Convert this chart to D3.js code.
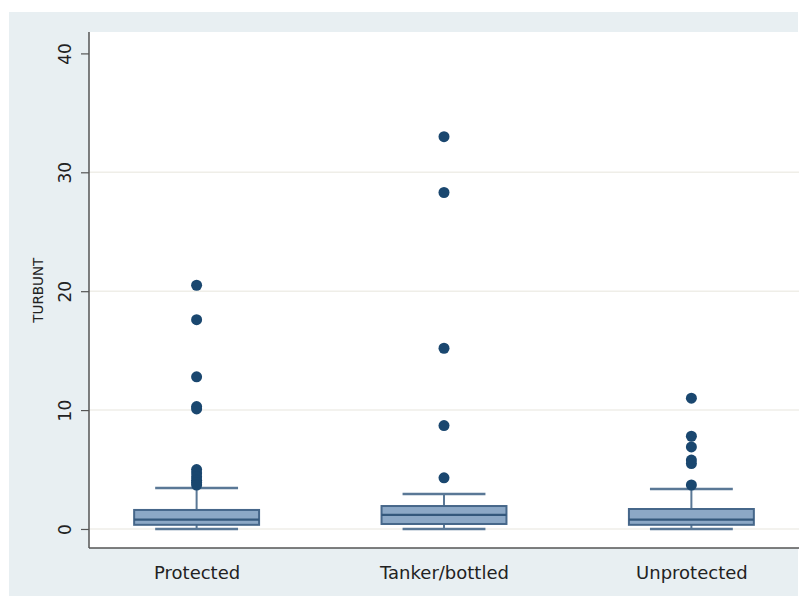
<!DOCTYPE html>
<html><head><meta charset="utf-8">
<script src="https://cdn.jsdelivr.net/npm/d3@7"></script>
<style>html,body{margin:0;padding:0;background:#fff;}svg{display:block;}</style>
</head><body>
<svg id="c" width="807" height="596"></svg>
<script>
const categories = ["Protected", "Tanker/bottled", "Unprotected"];
const lowerWhisker = [0, 0, 0];
const q1 = [0.35, 0.42, 0.35];
const medians = [0.78, 1.18, 0.78];
const q3 = [1.6, 1.93, 1.68];
const upperWhisker = [3.45, 2.94, 3.36];
const outliers = [
  [20.5, 17.6, 12.8, 10.3, 10.1, 5.0, 4.7, 4.4, 4.1, 3.9, 3.7],
  [33.0, 28.3, 15.2, 8.7, 4.3],
  [11.0, 7.8, 6.9, 5.8, 5.5, 3.7]
];
const yTicks = [0, 10, 20, 30, 40];
const yTitle = "TURBUNT";

const svg = d3.select("#c");
const plot = {l: 89, r: 799, t: 32, b: 548};

svg.append("rect").attr("x", 9).attr("y", 12).attr("width", 789).attr("height", 584).attr("fill", "#e8eff2");
svg.append("rect").attr("x", plot.l).attr("y", plot.t).attr("width", plot.r - plot.l).attr("height", plot.b - plot.t).attr("fill", "#ffffff");

const x = d3.scalePoint().domain(categories).range([plot.l, plot.r]).padding(0.435);
const y = d3.scaleLinear().domain([-1.6, 41.8]).range([plot.b, plot.t]);
const step = x.step();
const boxW = step * 0.505, capW = step * 0.335;

// gridlines
svg.append("g").selectAll("line").data(yTicks.slice(0, 4)).join("line")
  .attr("x1", plot.l).attr("x2", plot.r)
  .attr("y1", d => y(d)).attr("y2", d => y(d))
  .attr("stroke", "#efeee8").attr("stroke-width", 1.5);

// y axis
const yAxis = svg.append("g").attr("transform", `translate(${plot.l},0)`)
  .call(d3.axisLeft(y).tickValues(yTicks).tickSize(8).tickPadding(0).tickFormat(d3.format("d")));
yAxis.select(".domain").attr("d", `M0,${plot.t}V${plot.b}`).attr("stroke", "#555").attr("stroke-width", 1.5);
yAxis.selectAll(".tick line").attr("stroke", "#555").attr("stroke-width", 1.2);
yAxis.selectAll(".tick text")
  .attr("x", 0).attr("y", 0).attr("dy", null)
  .attr("transform", "translate(-18,0) rotate(-90)")
  .attr("text-anchor", "middle")
  .attr("font-family", "DejaVu Sans, Verdana, sans-serif").attr("font-size", 17).attr("fill", "#222");

// x axis
const xAxis = svg.append("g").attr("transform", `translate(0,${plot.b})`)
  .call(d3.axisBottom(x).tickSize(0).tickPadding(18));
xAxis.select(".domain").attr("d", `M${plot.l},0H${plot.r}`).attr("stroke", "#555").attr("stroke-width", 1.5);
xAxis.selectAll(".tick text")
  .attr("font-family", "DejaVu Sans, Verdana, sans-serif").attr("font-size", 18).attr("fill", "#222");

// y title
svg.append("text").attr("transform", `translate(43,${(y(40)+y(0))/2 - 1}) rotate(-90)`)
  .attr("text-anchor", "middle").attr("font-family", "DejaVu Sans, Verdana, sans-serif")
  .attr("font-size", 13.5).attr("fill", "#222").text(yTitle);

// boxes
const g = svg.append("g");
categories.forEach((c, i) => {
  const cx = x(c);
  const wc = "#5a7896";
  g.append("line").attr("x1", cx).attr("x2", cx).attr("y1", y(q3[i])).attr("y2", y(upperWhisker[i])).attr("stroke", wc).attr("stroke-width", 2);
  g.append("line").attr("x1", cx).attr("x2", cx).attr("y1", y(q1[i])).attr("y2", y(lowerWhisker[i])).attr("stroke", wc).attr("stroke-width", 2);
  g.append("line").attr("x1", cx - capW/2).attr("x2", cx + capW/2).attr("y1", y(upperWhisker[i])).attr("y2", y(upperWhisker[i])).attr("stroke", wc).attr("stroke-width", 2.5);
  g.append("line").attr("x1", cx - capW/2).attr("x2", cx + capW/2).attr("y1", y(lowerWhisker[i])).attr("y2", y(lowerWhisker[i])).attr("stroke", wc).attr("stroke-width", 2.5);
  g.append("rect").attr("x", cx - boxW/2).attr("width", boxW)
    .attr("y", y(q3[i])).attr("height", y(q1[i]) - y(q3[i]))
    .attr("fill", "#8ca8c6").attr("stroke", "#46678a").attr("stroke-width", 2);
  g.append("line").attr("x1", cx - boxW/2).attr("x2", cx + boxW/2).attr("y1", y(medians[i])).attr("y2", y(medians[i]))
    .attr("stroke", "#34587c").attr("stroke-width", 2.2);
  g.selectAll(null).data(outliers[i]).join("circle")
    .attr("cx", cx).attr("cy", d => y(d)).attr("r", 5.5).attr("fill", "#1a476f");
});
</script>
</body></html>
